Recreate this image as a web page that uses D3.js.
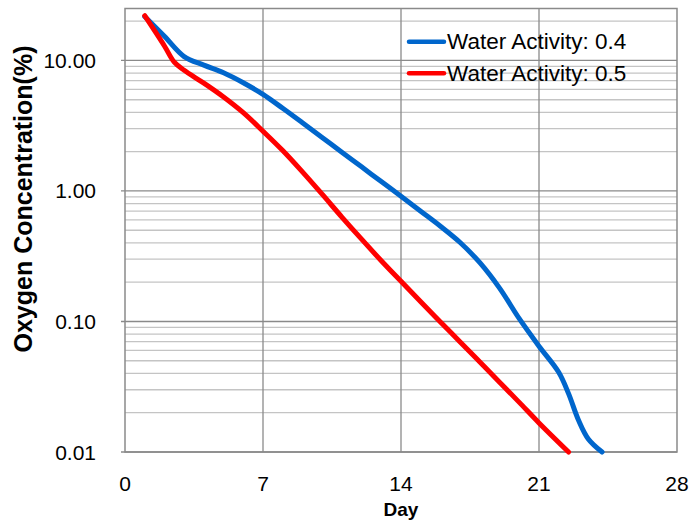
<!DOCTYPE html>
<html>
<head>
<meta charset="utf-8">
<script src="https://cdn.jsdelivr.net/npm/d3@7"></script>
<style>
  html, body { margin: 0; padding: 0; background: #fff; }
  svg { display: block; }
  text { font-family: "Liberation Sans", Arial, sans-serif; fill: #000; }
</style>
</head>
<body>
<div id="chart"></div>
<script>
// valeurs (jour, % O2)
const daysA = [1, 2, 3, 4, 5, 6, 7, 8, 9, 10, 11, 12, 13, 14, 15, 16, 17, 18, 19, 20, 21, 22, 22.5, 23, 23.5, 24.2];
const oxyA  = [21.7, 15.3, 10.7, 9.2, 8.05, 6.75, 5.5, 4.3, 3.33, 2.57, 1.98, 1.53, 1.18, 0.912, 0.70, 0.537, 0.403, 0.282, 0.18, 0.105, 0.0646, 0.0408, 0.028, 0.0176, 0.0126, 0.01];
const daysB = [1, 2, 2.5, 3, 4, 5, 6, 7, 8, 9, 10, 11, 12, 13, 14, 15, 16, 17, 18, 19, 20, 21, 22.5];
const oxyB  = [22, 12.9, 9.7, 8.4, 6.7, 5.25, 3.98, 2.87, 2.04, 1.40, 0.944, 0.631, 0.427, 0.292, 0.203, 0.1416, 0.0993, 0.0697, 0.0489, 0.0343, 0.024, 0.0167, 0.01];
const seriesNames = ["Water Activity: 0.4", "Water Activity: 0.5"];
const seriesColors = ["#0066cc", "#ff0000"];
const xTicks = [0, 7, 14, 21, 28];
const yMajor = [0.01, 0.1, 1, 10];

const W = 690, H = 523;
const plotL = 125, plotR = 677, plotT = 8.5, plotB = 452;

const svg = d3.select("#chart").append("svg")
    .attr("width", W)
    .attr("height", H);

const x = d3.scaleLinear().domain([0, 28]).range([plotL, plotR]);
const y = d3.scaleLog().domain([0.01, 25]).range([plotB, plotT]);

// lignes de grille secondaires (2..9 par décade)
let minor = [];
for (let e = -2; e <= 1; e++) {
    for (let k = 2; k <= 9; k++) {
        let v = k * Math.pow(10, e);
        if (v <= 25) minor.push(v);
    }
}
svg.append("g").selectAll("line")
    .data(minor)
    .enter().append("line")
    .attr("x1", plotL).attr("x2", plotR)
    .attr("y1", d => y(d)).attr("y2", d => y(d))
    .attr("stroke", "#c4c4c4")
    .attr("stroke-width", 1.3);

// grille principale
svg.append("g").selectAll("line")
    .data(yMajor)
    .enter().append("line")
    .attr("x1", plotL - 4).attr("x2", plotR)
    .attr("y1", d => y(d)).attr("y2", d => y(d))
    .attr("stroke", "#8a8a8a")
    .attr("stroke-width", 1.3);

svg.append("g").selectAll("line")
    .data(xTicks.slice(1, -1))
    .enter().append("line")
    .attr("x1", d => x(d)).attr("x2", d => x(d))
    .attr("y1", plotT).attr("y2", plotB)
    .attr("stroke", "#8a8a8a")
    .attr("stroke-width", 1.3);

// cadre de la zone de tracé
svg.append("rect")
    .attr("x", plotL).attr("y", plotT)
    .attr("width", plotR - plotL).attr("height", plotB - plotT)
    .attr("fill", "none")
    .attr("stroke", "#8a8a8a")
    .attr("stroke-width", 1.5);

// étiquettes des axes
svg.append("g").selectAll("text")
    .data(yMajor)
    .enter().append("text")
    .attr("x", 96)
    .attr("y", d => y(d))
    .attr("text-anchor", "end")
    .attr("dominant-baseline", "central")
    .style("font-size", "21px")
    .text(d => d3.format(".2f")(d));

svg.append("g").selectAll("text")
    .data(xTicks)
    .enter().append("text")
    .attr("x", d => x(d))
    .attr("y", 491)
    .attr("text-anchor", "middle")
    .style("font-size", "21px")
    .text(d => d);

svg.append("text")
    .attr("x", x(14))
    .attr("y", 516)
    .attr("text-anchor", "middle")
    .style("font-size", "19px")
    .style("font-weight", "bold")
    .text("Day");

svg.append("text")
    .attr("transform", "translate(32," + 199 + ") rotate(-90)")
    .attr("text-anchor", "middle")
    .style("font-size", "25px")
    .style("font-weight", "bold")
    .text("Oxygen Concentration(%)");

// courbes
const line = d3.line()
    .x(d => x(d[0]))
    .y(d => y(d[1]))
    .curve(d3.curveCatmullRom.alpha(0.5));

const series = [
    d3.zip(daysA, oxyA),
    d3.zip(daysB, oxyB)
];

svg.append("g").selectAll("path")
    .data(series)
    .enter().append("path")
    .attr("d", line)
    .attr("fill", "none")
    .attr("stroke", (d, i) => seriesColors[i])
    .attr("stroke-width", 5)
    .attr("stroke-linecap", "round")
    .attr("stroke-linejoin", "round");

// légende
const leg = svg.append("g").selectAll("g")
    .data(seriesNames)
    .enter().append("g")
    .attr("transform", (d, i) => "translate(0," + (41.7 + i * 31.6) + ")");

leg.append("line")
    .attr("x1", 409).attr("x2", 444)
    .attr("y1", 0).attr("y2", 0)
    .attr("stroke", (d, i) => seriesColors[i])
    .attr("stroke-width", 4.5)
    .attr("stroke-linecap", "round");

leg.append("text")
    .attr("x", 447)
    .attr("y", 0)
    .attr("dominant-baseline", "central")
    .style("font-size", "22.5px")
    .text(d => d);
</script>
</body>
</html>
